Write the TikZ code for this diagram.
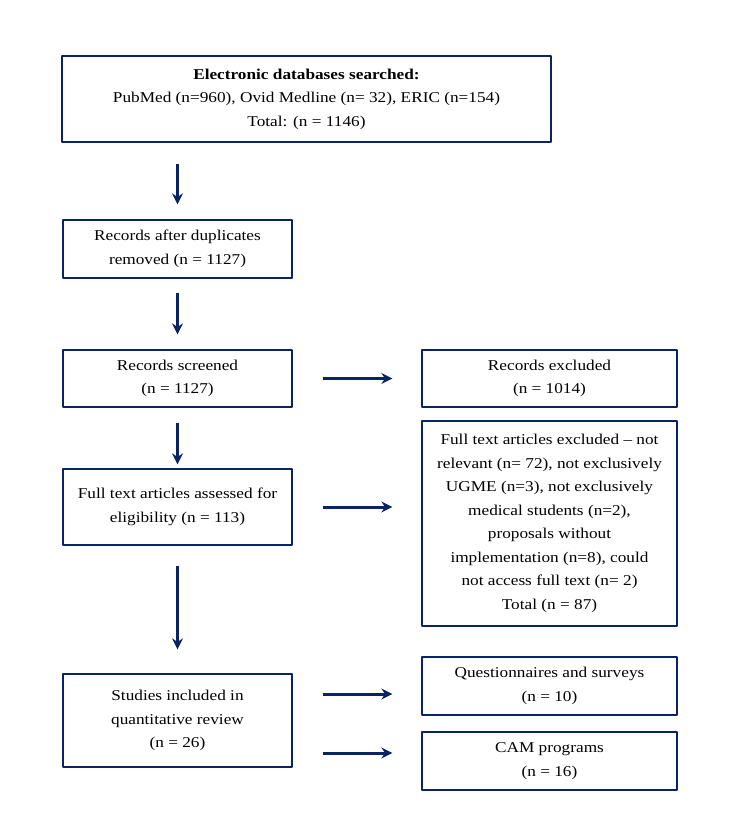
\documentclass[tikz,border=0pt]{standalone}
\usepackage{fontspec}
\setmainfont{Liberation Serif}[FakeStretch=1.15]
\usetikzlibrary{arrows.meta}
\definecolor{navy}{HTML}{0A2463}
\begin{document}
\begin{tikzpicture}[x=1pt, y=-1pt, font=\fontsize{15}{23.5}\selectfont, line join=round,
		box/.style={draw=navy, line width=1.3pt, align=center, inner sep=0pt},
		arr/.style={draw=navy, line width=3pt, -{Stealth[length=11pt, width=11pt]}},
		darr/.style={arr, xshift=0.5pt}]
			\useasboundingbox (0,0) rectangle (734,831);
			% --- main column
			\node[box, minimum width=489pt, minimum height=86pt] (search) at (306.5,99)
				{\textbf{Electronic databases searched:}\\PubMed (n=960), Ovid Medline (n= 32), ERIC (n=154)\\Total: (n = 1146)};
			\node[box, minimum width=229pt, minimum height=58pt] (dup) at (177.5,249)
				{Records after duplicates\\removed (n = 1127)};
			\node[box, minimum width=229pt, minimum height=57pt] (screen) at (177.5,378.5)
				{Records screened\\(n = 1127)};
			\node[box, minimum width=229pt, minimum height=76pt] (elig) at (177.5,507)
				{Full text articles assessed for\\eligibility (n = 113)};
			\node[box, minimum width=229pt, minimum height=93pt] (incl) at (177.5,720.5)
				{Studies included in\\quantitative review\\(n = 26)};
			% --- side column
			\node[box, minimum width=255pt, minimum height=57pt] (excl) at (549.5,378.5)
				{Records excluded\\(n = 1014)};
			\node[box, minimum width=255pt, minimum height=205pt] (ftexcl) at (549.5,523.5)
				{Full text articles excluded -- not\\relevant (n= 72), not exclusively\\UGME (n=3), not exclusively\\medical students (n=2),\\proposals without\\implementation (n=8), could\\not access full text (n= 2)\\Total (n = 87)};
			\node[box, minimum width=255pt, minimum height=58pt] (quest) at (549.5,686)
				{Questionnaires and surveys\\(n = 10)};
			\node[box, minimum width=255pt, minimum height=58pt] (cam) at (549.5,761)
				{CAM programs\\(n = 16)};
			% --- arrows
			\draw[darr, shorten <=21pt, shorten >=15pt] (search.south -| dup.north) -- (dup.north);
			\draw[darr, shorten <=14pt, shorten >=15pt] (dup) -- (screen);
			\draw[darr, shorten <=15pt, shorten >=4pt] (screen) -- (elig);
			\draw[darr, shorten <=20pt, shorten >=24pt] (elig) -- (incl);
			\draw[arr, shorten <=30pt, shorten >=29pt] (screen) -- (excl);
			\draw[arr, shorten <=30pt, shorten >=29pt] (elig.east) -- (elig.east -| ftexcl.west);
			\coordinate (q1) at (incl.east |- 0,694);
			\coordinate (q2) at (incl.east |- 0,753);
			\draw[arr, shorten <=30pt, shorten >=29pt] (q1) -- (q1 -| quest.west);
			\draw[arr, shorten <=30pt, shorten >=29pt] (q2) -- (q2 -| cam.west);
		\end{tikzpicture}
\end{document}
